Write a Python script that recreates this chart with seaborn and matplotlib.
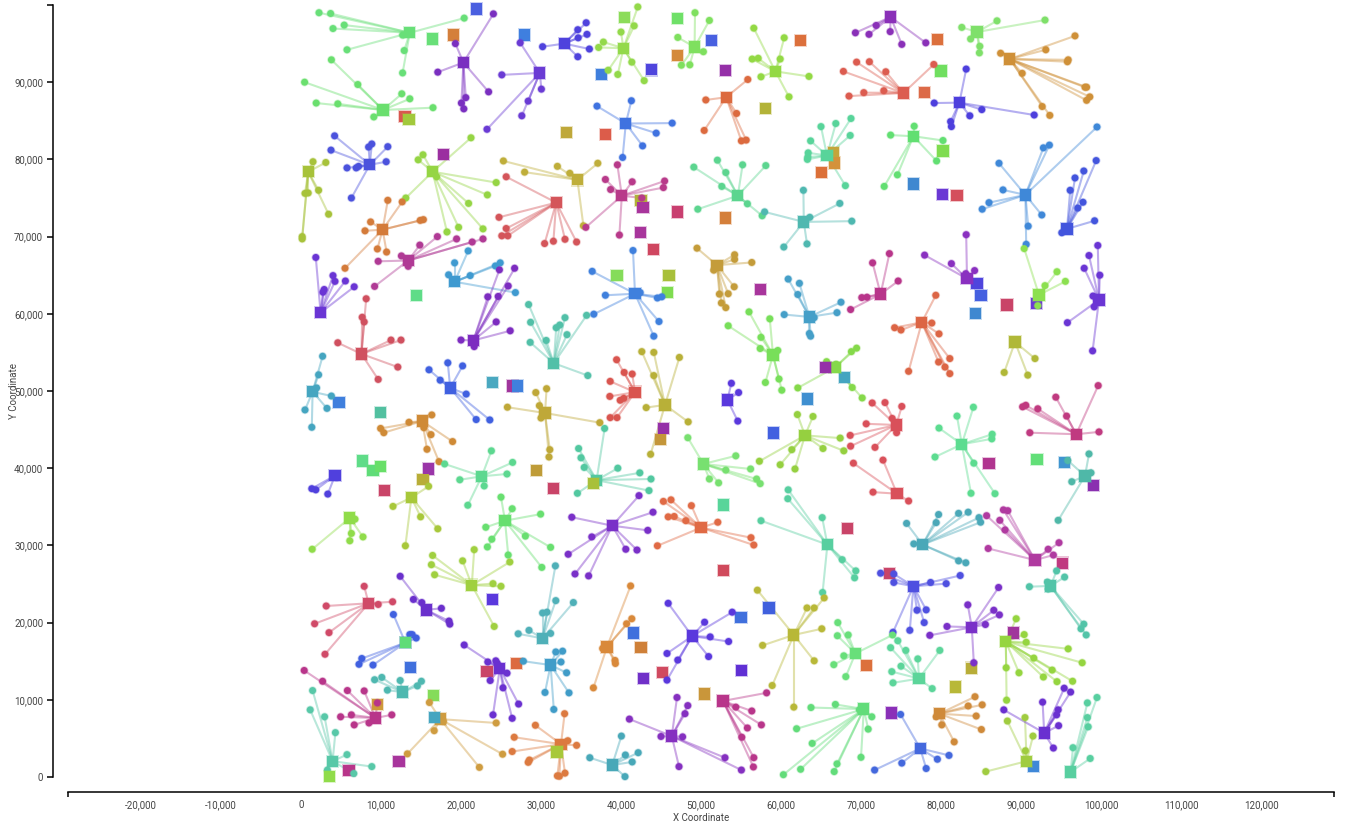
import matplotlib
matplotlib.use("Agg")
import matplotlib.pyplot as plt
import pandas as pd
import seaborn as sns

# All coordinates in thousands of map units
hubs = [
 (13.6,96.4),(10.25,86.4),(20.3,92.55),(29.85,91.2),(32.9,95.0),(8.6,79.3),(0.9,78.4),(16.45,78.4),
 (10.2,70.9),(13.4,66.9),(31.9,74.4),(34.55,77.35),(40.3,94.4),(49.2,94.55),(59.3,91.4),(53.15,88.05),
 (40.6,84.65),(40.1,75.3),(54.6,75.3),(62.85,71.9),(65.75,80.5),(52.0,66.3),(73.7,98.45),(84.5,96.5),
 (88.6,93.0),(75.3,88.6),(82.3,87.35),(76.55,83.0),(90.55,75.4),(95.75,71.0),(2.45,60.15),(7.55,54.8),
 (19.2,64.15),(21.55,56.55),(31.6,53.6),(1.45,49.9),(18.65,50.4),(15.15,46.1),(30.5,47.15),(22.6,38.95),
 (4.25,39.05),(13.8,36.2),(6.1,33.55),(25.5,33.2),(41.75,62.6),(63.55,59.6),(59.0,54.65),(41.75,49.85),
 (45.5,48.2),(53.3,48.85),(63.0,44.25),(66.75,53.05),(50.3,40.55),(36.95,38.45),(38.9,32.55),(50.0,32.3),
 (65.8,30.1),(72.45,62.55),(83.25,64.55),(92.25,62.45),(99.75,61.8),(77.6,58.9),(89.25,56.35),(74.4,45.6),
 (74.5,36.7),(82.6,43.1),(96.9,44.4),(98.0,39.0),(77.7,30.1),(91.75,28.1),(76.55,24.7),(83.85,19.4),
 (93.7,24.75),(88.1,17.55),(77.25,12.75),(69.3,16.0),(70.35,8.8),(77.4,3.7),(79.8,8.2),(90.7,2.05),
 (92.9,5.7),(96.2,0.65),(21.35,24.85),(30.2,17.95),(8.45,22.5),(15.65,21.65),(13.05,17.4),(24.85,14.05),
 (31.2,14.5),(12.7,11.0),(9.3,7.65),(3.95,2.05),(17.4,7.5),(32.5,4.25),(38.25,16.85),(48.9,18.25),
 (61.6,18.4),(52.75,9.85),(46.35,5.3),(38.9,1.55),
]
hub_colors = [
 "#68df78","#6adf6e","#7a2fc0","#6a3bd4","#4f42dd","#4b52dd","#a7c23a","#95d544",
 "#d47b3a","#b03a95","#d4555a","#bfae3a","#93d94a","#7fe05f","#93d944","#dc6a3f",
 "#3f72e0","#b83a8a","#5cd58f","#4fb8b0","#58d49a","#c49c3a","#8a30b8","#7fe06a",
 "#cf9038","#dc5c50","#4d3fdd","#62df72","#3f88d8","#4355dd","#6a35d4","#d0505f",
 "#3f9ad0","#7d2cc0","#52c0a8","#45a5c0","#4060e0","#cf8a36","#bfa838","#5dd890",
 "#5040dd","#a8c83a","#90dc4a","#68df70","#3f80dd","#459fc8","#78df5a","#d9554f",
 "#b8b038","#5a38dd","#95d040","#85d94a","#78e070","#52c8a0","#7a30c8","#e06a45",
 "#58cfa0","#b8358a","#8a30c0","#8ce050","#6a35d4","#dc6545","#b0b838","#d9505a",
 "#d9505a","#5cdc90","#c03a80","#4fb8a8","#4aa8b8","#b03aa0","#4f50e0","#7a30c8",
 "#52c4a8","#95d540","#5cd59a","#68df7a","#62dc7a","#4468dd","#cf8a3a","#a0cc40",
 "#6a30d0","#58cfa0","#a0d040","#4fb0b8","#d04a68","#6a30cc","#4060e0","#6a30d0",
 "#409cc8","#4fb8b0","#b8358a","#58c8a8","#cf9c40","#dc7a40","#d9893a","#5a38dd",
 "#b8b838","#b8358a","#8530c0","#48a8b8",
]
customers = [
 [(2.25,99.0),(3.7,98.9),(5.4,97.4),(4.0,96.95),(5.75,94.2),(12.7,96.1),(12.9,94.1),(12.7,91.2),(20.4,98.3)],
 [(3.8,92.9),(7.1,89.7),(0.45,90.0),(1.9,87.3),(4.6,87.2),(12.6,88.5),(13.6,87.85),(9.1,85.5),(16.5,86.7)],
 [(24.05,98.85),(19.3,95.0),(17.1,91.3),(23.45,88.75),(20.6,88.0),(20.05,87.3),(20.35,86.55)],
 [(27.4,95.1),(25.1,90.95),(30.05,89.1),(28.4,87.55),(27.6,85.65),(23.25,83.9)],
 [(30.2,94.6),(35.65,97.7),(34.6,96.8),(35.75,96.2),(34.65,95.75),(36.05,94.3),(34.6,93.3)],
 [(4.2,83.05),(3.75,81.2),(8.45,81.6),(8.85,82.0),(10.85,81.65),(10.65,79.7),(5.75,78.9),(6.9,78.9),(7.2,79.1),(6.3,75.0)],
 [(1.5,79.7),(3.1,79.6),(2.2,76.0),(0.5,75.6),(0.9,75.65),(3.45,72.9),(0.15,70.0),(0.15,69.7)],
 [(21.25,82.8),(15.25,80.6),(14.65,79.95),(16.95,77.75),(24.4,77.0),(23.3,75.4),(20.95,74.3),(13.1,75.0),(18.25,70.6),(19.7,71.2),(22.75,71.0)],
 [(10.85,74.7),(12.65,74.5),(8.7,71.9),(8.0,70.75),(9.55,68.4),(10.7,68.0),(14.9,72.1),(15.3,72.2),(5.5,65.9)],
 [(17.05,70.0),(14.85,68.9),(19.45,69.7),(21.4,69.3),(22.75,69.7),(12.55,67.5),(9.65,66.8),(9.2,63.55),(13.4,66.15)],
 [(25.65,77.75),(24.75,72.5),(25.65,71.05),(25.1,70.1),(25.85,70.1),(30.45,69.1),(31.55,69.4),(33.0,69.65),(34.45,69.3)],
 [(37.1,79.5),(33.6,78.2),(25.3,79.8),(27.95,78.35),(32.05,79.1),(35.3,71.4)],
 [(42.1,99.75),(41.65,97.3),(40.0,96.5),(37.8,95.2),(37.2,94.5),(41.35,92.6),(42.9,90.2),(39.6,91.0),(38.4,91.55)],
 [(49.25,99.0),(51.05,98.0),(47.1,95.8),(50.3,93.95),(47.55,92.2),(48.6,92.25)],
 [(56.6,97.0),(60.4,95.75),(59.9,93.0),(56.4,93.0),(57.15,93.1),(57.5,90.7),(63.5,90.75),(61.0,88.1)],
 [(55.85,90.35),(50.6,87.7),(54.45,85.95),(50.4,83.75),(55.05,82.4),(55.65,82.5)],
 [(41.3,87.6),(37.0,86.9),(46.4,84.7),(44.4,83.4),(42.7,81.75),(40.2,80.25)],
 [(39.55,79.3),(38.05,77.4),(38.7,76.1),(41.4,77.1),(45.45,77.2),(45.3,76.35),(42.6,75.0),(35.6,71.2),(39.8,70.2)],
 [(49.1,79.0),(52.05,79.9),(53.1,78.3),(55.2,79.3),(58.1,79.2),(52.6,76.5),(49.6,73.55),(55.8,74.25),(57.65,72.7)],
 [(62.8,76.0),(57.95,73.2),(63.6,72.5),(67.35,74.3),(60.35,68.65),(63.25,69.05),(68.85,72.0)],
 [(65.0,84.25),(66.85,84.65),(63.7,82.4),(63.4,80.85),(63.35,80.3),(63.3,80.0),(68.75,85.3),(68.65,83.1),(68.05,76.6)],
 [(49.5,68.5),(54.2,67.65),(54.2,67.05),(56.35,66.65),(54.15,63.5),(52.3,62.55),(53.4,62.6),(52.55,61.4),(53.1,60.8),(51.6,65.65)],
 [(71.9,97.35),(69.3,96.4),(71.0,96.2),(73.65,96.55),(75.1,94.9),(78.1,95.1)],
 [(82.6,97.1),(87.0,97.95),(93.0,98.05),(83.7,95.6),(84.85,94.65),(84.8,93.8)],
 [(87.45,93.75),(96.75,96.0),(93.1,94.2),(95.9,92.9),(95.8,92.65),(90.15,91.15),(98.0,89.35),(98.2,89.35),(98.6,88.1),(98.2,87.65),(92.65,86.85),(93.6,85.7)],
 [(69.45,92.6),(71.05,92.65),(67.8,91.4),(73.1,91.35),(79.1,92.3),(72.85,88.9),(70.35,88.65),(68.5,88.2)],
 [(83.15,91.7),(79.15,87.3),(85.1,86.45),(83.6,85.65),(81.2,84.9),(81.3,84.25),(91.65,85.75)],
 [(76.65,84.3),(73.7,83.15),(80.25,82.45),(79.45,79.8),(74.55,78.0),(72.9,76.5)],
 [(99.5,84.2),(92.8,81.5),(93.55,81.85),(87.25,79.5),(87.75,76.05),(86.0,74.4),(85.15,73.55),(92.6,72.8),(90.9,71.35),(90.65,69.0)],
 [(99.4,79.85),(97.85,78.5),(96.75,77.6),(96.15,76.0),(97.75,74.45),(97.1,73.7),(99.2,72.05),(95.1,70.5)],
 [(4.0,64.95),(4.25,64.2),(2.9,63.15),(2.75,62.8),(5.55,64.25),(6.65,63.5),(1.85,67.3)],
 [(8.15,61.95),(7.65,59.55),(7.9,58.95),(4.6,56.25),(11.25,56.6),(12.5,56.6),(12.1,53.1),(9.65,51.5)],
 [(19.2,66.6),(20.9,68.15),(18.45,65.05),(21.15,64.95),(24.9,66.6),(24.3,66.2),(26.8,62.75)],
 [(26.7,65.9),(24.8,65.7),(25.9,63.6),(23.35,62.2),(24.65,62.25),(24.4,58.95),(26.15,57.8),(20.0,56.6),(21.65,55.75)],
 [(28.45,61.2),(28.7,58.9),(28.65,56.3),(30.65,56.55),(31.9,58.2),(32.35,58.55),(33.0,59.5),(33.25,57.3),(35.7,59.8),(35.85,52.0)],
 [(2.7,54.5),(2.2,52.1),(1.95,50.4),(3.8,49.35),(3.25,47.75),(0.5,47.55),(1.35,45.3)],
 [(16.0,52.75),(17.4,51.4),(18.35,53.65),(20.2,53.25),(20.65,49.6),(21.9,46.3),(23.6,46.25)],
 [(16.35,46.9),(13.5,45.95),(9.95,45.15),(10.35,44.6),(15.35,45.25),(16.25,44.35),(18.95,43.45),(15.75,42.45),(17.25,40.85)],
 [(30.7,50.3),(29.35,49.8),(29.8,48.1),(25.8,47.9),(30.0,46.5),(31.1,42.4),(31.0,41.45),(37.35,45.9)],
 [(23.8,42.25),(26.45,40.75),(25.75,39.25),(19.85,38.5),(22.9,37.7),(20.85,35.2),(17.95,40.55)],
 [(4.45,38.8),(1.35,37.35),(1.85,37.2),(3.35,36.65)],
 [(15.95,37.65),(11.5,35.05),(14.95,33.7),(13.05,29.95),(17.1,32.15)],
 [(6.75,33.4),(1.4,29.5),(6.3,31.55),(7.75,31.1),(6.1,30.6)],
 [(25.0,36.25),(26.4,34.75),(29.95,34.05),(23.1,32.35),(23.85,30.8),(23.3,29.8),(28.05,31.2),(31.2,29.75),(25.9,28.75),(30.1,27.15)],
 [(36.4,65.5),(38.05,62.4),(36.6,59.95),(42.4,62.75),(44.55,62.05),(45.1,62.2),(44.75,59.0),(44.1,57.1),(41.5,68.2)],
 [(60.9,64.5),(62.3,63.95),(62.1,62.5),(60.4,59.9),(64.15,59.5),(67.0,60.15),(67.5,61.5),(63.55,57.45),(63.7,57.1)],
 [(56.0,60.25),(58.6,59.35),(53.4,58.45),(57.5,56.95),(57.4,55.5),(59.6,55.25),(58.05,51.1),(59.75,51.55),(60.1,50.1)],
 [(39.45,54.05),(40.4,52.4),(41.4,52.2),(38.65,51.25),(38.6,49.3),(39.9,48.8),(40.35,49.05),(38.65,46.55),(39.5,46.55)],
 [(42.6,55.1),(44.1,55.0),(47.3,54.35),(44.1,52.0),(43.15,47.85),(48.4,46.0),(43.7,41.8)],
 [(53.8,51.0),(54.7,49.8),(54.6,46.1)],
 [(62.05,46.95),(64.0,46.7),(65.25,42.55),(61.35,42.4),(57.3,40.9),(59.9,40.45),(61.75,39.9),(67.4,43.9),(67.85,42.25)],
 [(65.7,53.8),(66.85,53.45),(62.1,50.4),(69.45,55.55),(68.8,55.1),(66.95,53.4),(68.9,50.45),(70.15,49.1)],
 [(48.35,43.95),(54.35,41.6),(56.2,39.9),(53.1,39.75),(56.95,38.6),(57.4,38.0),(51.05,38.6),(52.2,38.1)],
 [(37.95,45.15),(34.7,42.55),(35.0,41.35),(35.4,40.1),(39.6,40.0),(42.35,39.4),(43.75,38.6),(43.5,37.1),(34.55,36.75)],
 [(42.25,36.45),(44.0,34.3),(33.85,33.65),(43.35,31.95),(36.35,31.1),(33.4,28.85),(40.6,29.5),(42.0,29.4),(34.25,26.3),(35.95,26.05)],
 [(45.3,35.7),(46.25,35.9),(48.8,35.15),(45.9,33.7),(46.65,33.75),(48.1,33.2),(52.1,33.0),(56.25,31.0),(56.6,30.05),(44.55,29.95)],
 [(60.9,37.2),(60.85,36.05),(65.15,33.6),(57.5,33.2),(67.65,28.15),(69.35,26.7),(69.2,25.8),(65.2,23.9)],
 [(71.45,66.6),(73.55,67.8),(74.65,64.25),(70.1,62.1),(70.75,62.15),(68.7,60.55)],
 [(83.15,70.25),(77.95,67.6),(81.3,66.5),(83.1,65.2),(84.2,65.6)],
 [(94.5,65.45),(93.0,63.65),(95.55,64.2),(92.1,61.05),(90.4,68.45)],
 [(98.5,67.55),(99.6,68.85),(97.9,65.9),(99.85,65.0),(99.0,62.3),(99.15,60.9),(95.8,58.85),(98.95,55.2)],
 [(79.35,62.4),(74.2,58.2),(75.0,57.9),(78.85,58.8),(79.75,57.4),(81.1,54.2),(79.7,53.75),(80.5,53.1),(81.1,52.25),(75.95,52.55)],
 [(91.75,54.2),(87.9,52.4),(90.85,52.05)],
 [(71.4,48.45),(73.0,48.5),(75.1,48.0),(73.9,46.45),(70.65,45.75),(68.65,44.25),(68.7,42.85),(71.75,42.7),(74.45,44.6)],
 [(69.05,40.65),(72.75,41.05),(71.5,36.9),(75.95,35.75)],
 [(84.05,47.9),(82.0,46.75),(79.75,45.2),(79.25,41.45),(84.1,40.65),(83.75,36.75),(86.75,36.7),(86.4,44.4),(86.35,43.8)],
 [(99.65,50.7),(94.35,49.2),(92.1,47.7),(90.2,47.95),(90.6,48.15),(95.7,46.75),(91.1,44.6),(99.75,44.7)],
 [(95.85,41.0),(98.5,41.85),(98.75,39.4),(96.35,38.25),(94.65,33.25)],
 [(79.7,34.0),(82.2,34.15),(83.4,34.3),(79.4,32.95),(84.75,33.6),(84.95,33.0),(75.7,32.85),(76.6,30.2),(82.2,28.0),(83.1,27.75)],
 [(85.7,33.85),(87.35,33.25),(87.8,34.6),(88.35,34.5),(88.0,32.0),(85.9,29.6),(93.4,29.5),(94.05,28.75),(94.75,30.35)],
 [(72.45,26.4),(74.1,26.3),(74.1,25.2),(78.7,25.2),(80.65,25.05),(82.4,26.1),(77.0,21.6),(78.15,21.65),(77.9,20.0),(76.1,19.0),(74.0,18.75)],
 [(87.2,24.55),(83.35,22.3),(86.6,21.6),(87.3,21.0),(80.75,19.5),(85.55,19.75),(78.6,18.35),(84.1,14.8)],
 [(94.45,26.7),(95.45,25.9),(93.3,25.25),(93.4,24.35),(91.05,24.65),(97.85,19.8),(97.5,19.2),(98.15,18.4)],
 [(89.4,20.5),(90.4,18.45),(90.65,17.45),(95.9,16.6),(97.65,14.8),(91.6,15.4),(93.9,13.85),(92.8,12.95),(94.5,12.35),(96.45,12.4),(89.75,13.5),(88.15,14.15),(88.2,9.95)],
 [(74.6,17.65),(73.7,16.75),(75.6,16.4),(79.85,16.4),(77.1,15.3),(75.0,14.35),(73.85,13.65),(74.0,12.2),(78.9,11.45)],
 [(73.95,18.4),(67.1,20.0),(67.05,18.3),(68.4,18.4),(67.85,15.7),(66.6,14.55),(68.1,13.0)],
 [(69.8,8.7),(71.35,7.8),(70.9,6.2),(70.0,2.55),(67.0,1.7),(66.8,9.4),(63.75,9.0),(61.95,6.25),(63.9,4.35),(62.45,1.0),(60.3,0.3),(66.65,0.7)],
 [(74.95,8.1),(81.0,2.8),(79.55,2.3),(75.1,1.8),(78.15,1.1),(71.7,0.9)],
 [(79.4,7.8),(84.25,10.4),(83.4,9.2),(85.15,9.35),(84.4,7.9),(85.05,6.15),(80.1,6.75),(81.65,4.55)],
 [(88.3,7.25),(90.5,7.7),(91.5,5.3),(90.55,3.4),(85.6,0.7)],
 [(87.85,8.7),(92.7,9.7),(95.4,11.5),(96.2,11.0),(94.65,8.7),(94.45,8.05),(94.7,6.65),(94.05,3.75)],
 [(99.5,10.3),(98.3,9.6),(98.3,7.7),(98.4,6.5),(96.5,3.8),(98.65,2.4)],
 [(16.45,28.7),(16.3,27.5),(16.7,26.2),(20.2,28.0),(21.65,29.45),(26.1,27.85),(24.0,25.05),(25.0,24.7),(24.15,19.5)],
 [(31.8,27.35),(31.85,22.85),(30.2,21.25),(30.75,21.35),(34.05,22.6),(27.15,18.55),(28.5,19.0),(31.2,18.6)],
 [(7.9,24.7),(11.45,22.7),(9.65,22.35),(3.15,22.15),(1.7,19.85),(3.5,18.7),(3.0,15.9)],
 [(12.4,26.0),(14.05,23.0),(15.1,22.6),(17.55,21.85),(18.5,20.2),(18.6,19.8)],
 [(11.55,21.05),(13.6,18.45),(13.9,18.45),(14.4,18.0),(7.6,15.35),(7.25,14.6),(9.0,14.5)],
 [(20.4,17.1),(23.35,14.9),(24.35,15.05),(24.55,14.7),(25.75,13.45),(23.65,12.5),(25.25,11.55),(27.2,9.45),(24.0,8.05),(26.4,7.6)],
 [(27.8,15.0),(31.85,16.2),(32.7,16.3),(32.5,14.9),(33.2,13.5),(30.5,10.95),(33.5,10.9),(31.6,8.75)],
 [(9.2,12.6),(10.1,12.9),(12.4,12.5),(15.05,12.4),(14.55,11.8),(10.8,11.25)],
 [(0.4,13.8),(2.7,12.4),(5.8,11.2),(7.9,11.15),(9.55,9.6),(11.35,8.05),(4.95,7.8),(6.3,8.05),(6.65,6.75),(8.5,7.0)],
 [(1.45,11.2),(1.15,8.7),(2.95,7.8),(4.3,5.75),(5.75,2.9),(8.85,1.35),(3.3,0.9),(6.6,0.45)],
 [(16.05,9.65),(17.8,7.2),(16.65,6.0),(24.4,7.0),(25.2,2.95),(13.3,3.0),(22.3,1.25)],
 [(32.95,8.2),(29.3,6.7),(26.65,5.15),(26.4,3.3),(28.55,2.2),(28.4,1.9),(33.35,4.7),(33.0,0.5),(32.05,0.15),(32.3,0.1),(34.45,4.1)],
 [(41.2,24.75),(41.35,20.5),(40.7,19.85),(37.7,16.65),(39.25,15.1),(39.3,14.7),(36.55,11.55)],
 [(45.9,22.5),(53.9,21.35),(50.45,20.05),(51.15,18.15),(53.45,17.55),(45.75,16.0),(50.95,15.6),(47.1,15.15),(45.75,12.55)],
 [(57.05,24.2),(63.25,21.9),(64.15,21.9),(65.4,23.2),(65.1,19.2),(57.7,17.05),(64.15,15.05),(58.9,11.85),(61.6,9.05)],
 [(58.2,10.9),(54.35,9.05),(56.35,8.55),(57.55,6.75),(55.8,6.35),(55.1,5.15),(56.6,2.5),(56.55,1.3)],
 [(47.0,10.3),(48.35,9.25),(48.0,8.2),(41.05,7.5),(45.0,5.25),(47.7,5.2),(53.0,2.5),(55.05,0.9),(47.25,1.35)],
 [(40.05,5.3),(40.55,2.85),(42.15,3.15),(41.4,1.95),(36.1,2.5),(40.5,0.05)],
]
idle_sites = [
 (21.9,99.5),(16.4,95.6),(19.05,96.1),(27.96,96.1),(13.0,85.6),(17.85,80.6),(33.2,83.45),(38.05,83.2),
 (40.4,98.4),(37.6,91.0),(43.8,91.6),(47.1,98.25),(47.1,93.5),(51.3,95.4),(53.1,91.5),(62.4,95.4),
 (58.1,86.55),(42.5,74.7),(42.75,73.75),(47.05,73.2),(42.4,70.5),(44.05,68.3),(53.1,72.4),(66.6,80.9),
 (66.65,79.55),(65.1,78.3),(79.6,95.5),(77.9,88.7),(80.0,91.45),(80.25,81.1),(76.6,76.8),(80.2,75.45),
 (82.0,75.3),(57.4,63.15),(14.4,62.4),(4.75,48.55),(9.95,47.2),(23.9,51.1),(26.4,50.65),(27.1,50.65),
 (7.65,40.95),(9.0,39.7),(9.9,40.25),(15.9,39.9),(15.25,38.55),(10.4,37.1),(29.4,39.7),(31.55,37.35),
 (39.5,64.95),(46.0,64.95),(45.8,62.8),(45.3,45.15),(44.9,43.7),(63.35,48.95),(59.1,44.55),(67.95,51.75),
 (52.8,35.25),(84.5,63.95),(85.0,62.4),(84.3,60.0),(88.25,61.15),(91.9,61.35),(86.0,40.6),(92.0,41.15),
 (95.4,40.7),(99.1,37.75),(95.15,27.7),(73.6,26.4),(68.3,32.2),(83.85,14.1),(81.85,11.65),(89.1,18.65),
 (70.65,14.45),(73.85,8.3),(91.55,1.4),(23.9,23.0),(13.7,14.2),(23.25,13.65),(26.95,14.7),(9.6,9.4),
 (6.0,0.8),(16.6,10.55),(12.25,2.0),(41.6,18.65),(42.5,16.8),(42.8,12.75),(45.2,13.55),(50.4,10.75),
 (55.0,20.7),(58.5,21.9),(52.8,26.75),(55.1,13.8),
]
idle_colors = [
 "#4a5fe0","#68df78","#d47f3b","#3f7fdf","#d9574f","#9b2fa0","#bfa83a","#dc5c4a",
 "#8cdc5a","#3f7fdd","#4f45dd","#6fe068","#d48a3a","#4860e0","#9530a8","#dc703c",
 "#b3b338","#b0b038","#a8359c","#c93f70","#a8359c","#cf4660","#d47f3a","#c4a53a",
 "#d4923a","#dc7038","#dc703c","#dc6a48","#70df60","#7fdc50","#3f88d0","#6a38d4",
 "#d44f5c","#a8359c","#5fdc88","#3f7fdd","#52c0a0","#4aa8c0","#a0359c","#4080dd",
 "#5fdc88","#5fdc78","#68df68","#9a35a8","#b8ad38","#c94468","#bf9c38","#c94468",
 "#85dc5a","#a8c03a","#7fdc50","#9530a8","#c4963a","#3f8fd0","#4260e0","#45a5c0",
 "#58d59a","#4f45dd","#4560e0","#3f88d0","#c94468","#6a38d4","#b0358f","#62df78",
 "#3f95d0","#8a30b0","#c03a80","#c94468","#c94468","#b8ad38","#b8b838","#a0359c",
 "#dc703c","#8a30b8","#3f88d8","#5a38dd","#4070dd","#c94468","#dc6a40","#cf9a3a",
 "#b8358a","#85dc5a","#a8359c","#4070dd","#cf8038","#7030c8","#d04a60","#c9963a",
 "#4070dd","#4060dd","#d04a5c","#6030d4",
]
# Sites drawn over the hubs they overlap
top_sites = [(13.5,85.2),(13.05,17.4),(65.6,53.05),(36.6,38.05),(16.65,7.75),(32.0,3.25),(3.6,0.1)]
top_colors = ["#a2c93c","#5fdc78","#9530a8","#a8c03a","#45a5c0","#a8c83a","#90dc4a"]

x_ticks = [-20000,-10000,0,10000,20000,30000,40000,50000,60000,70000,80000,90000,100000,110000,120000]
y_ticks = [0,10000,20000,30000,40000,50000,60000,70000,80000,90000]
x_label = "X Coordinate"
y_label = "Y Coordinate"

sns.set_theme(style="white")
plt.rcParams["font.family"] = ["Roboto", "DejaVu Sans"]
W, H = 1346, 836
fig = plt.figure(figsize=(W/100, H/100), dpi=100, facecolor="white")
ax = fig.add_axes([68/W, (H-777)/H, (1334-68)/W, 772/H])

seg_rows, pt_rows = [], []
seg_id = 0
for k, ((hx, hy), pts) in enumerate(zip(hubs, customers)):
    for (px, py) in pts:
        seg_rows.append((seg_id, k, hx*1000, hy*1000))
        seg_rows.append((seg_id, k, px*1000, py*1000))
        pt_rows.append((k, px*1000, py*1000))
        seg_id += 1
segs = pd.DataFrame(seg_rows, columns=["seg", "cluster", "x", "y"])
pts_df = pd.DataFrame(pt_rows, columns=["cluster", "x", "y"])
pal = dict(enumerate(hub_colors))

sns.lineplot(data=segs, x="x", y="y", hue="cluster", units="seg", estimator=None, sort=False,
             palette=pal, alpha=0.42, linewidth=1.5, legend=False, ax=ax, zorder=1)

def squares(sites, colors, z):
    d = pd.DataFrame({"x": [s[0]*1000 for s in sites], "y": [s[1]*1000 for s in sites],
                      "i": range(len(sites))})
    p = dict(enumerate(colors))
    # faint outer rim, then the solid square
    sns.scatterplot(data=d, x="x", y="y", hue="i", palette=p, marker="s", s=92, alpha=0.3,
                    linewidth=0, legend=False, ax=ax, zorder=z, clip_on=False)
    sns.scatterplot(data=d, x="x", y="y", hue="i", palette=p, marker="s", s=66,
                    linewidth=0, legend=False, ax=ax, zorder=z+0.1, clip_on=False)

squares(idle_sites, idle_colors, 2)
sns.scatterplot(data=pts_df, x="x", y="y", hue="cluster", palette=pal, marker="o", s=38, alpha=0.3,
                linewidth=0, legend=False, ax=ax, zorder=3, clip_on=False)
sns.scatterplot(data=pts_df, x="x", y="y", hue="cluster", palette=pal, marker="o", s=25,
                linewidth=0, legend=False, ax=ax, zorder=3.1, clip_on=False)
squares(hubs, hub_colors, 4)
squares(top_sites, top_colors, 5)

xmin, xmax = -29125, 129125
ax.set_xlim(xmin, xmax)
ax.set_ylim(0, 100000)
for s in ("top", "right"):
    ax.spines[s].set_visible(False)
for s in ("left", "bottom"):
    ax.spines[s].set_position(("outward", 10.8))
    ax.spines[s].set_color("black")
    ax.spines[s].set_linewidth(1.1)

ax.set_xticks(x_ticks, [f"{v:,}" for v in x_ticks])
ax.set_yticks(y_ticks, [f"{v:,}" for v in y_ticks])
ax.set_xticks([xmin, xmax], minor=True)
ax.set_yticks([100000], minor=True)
ax.tick_params(axis="x", which="major", length=0, pad=5.8, labelsize=7, labelcolor="#444444")
ax.tick_params(axis="x", which="minor", length=3.8, width=1.1, color="black", bottom=True)
ax.tick_params(axis="y", which="major", length=4.3, width=1.1, color="black", left=True,
               pad=2.8, labelsize=7, labelcolor="#444444")
ax.tick_params(axis="y", which="minor", length=4.3, width=1.1, color="black", left=True)
ax.set_xlabel("")
ax.set_ylabel("")
fig.text(701/W, 1-818/H, x_label, ha="center", va="center", fontsize=7, color="#444444")
fig.text(14/W, 1-391/H, y_label, ha="center", va="center", rotation=90, fontsize=7, color="#444444")

fig.savefig("out.png", dpi=100, facecolor="white")
